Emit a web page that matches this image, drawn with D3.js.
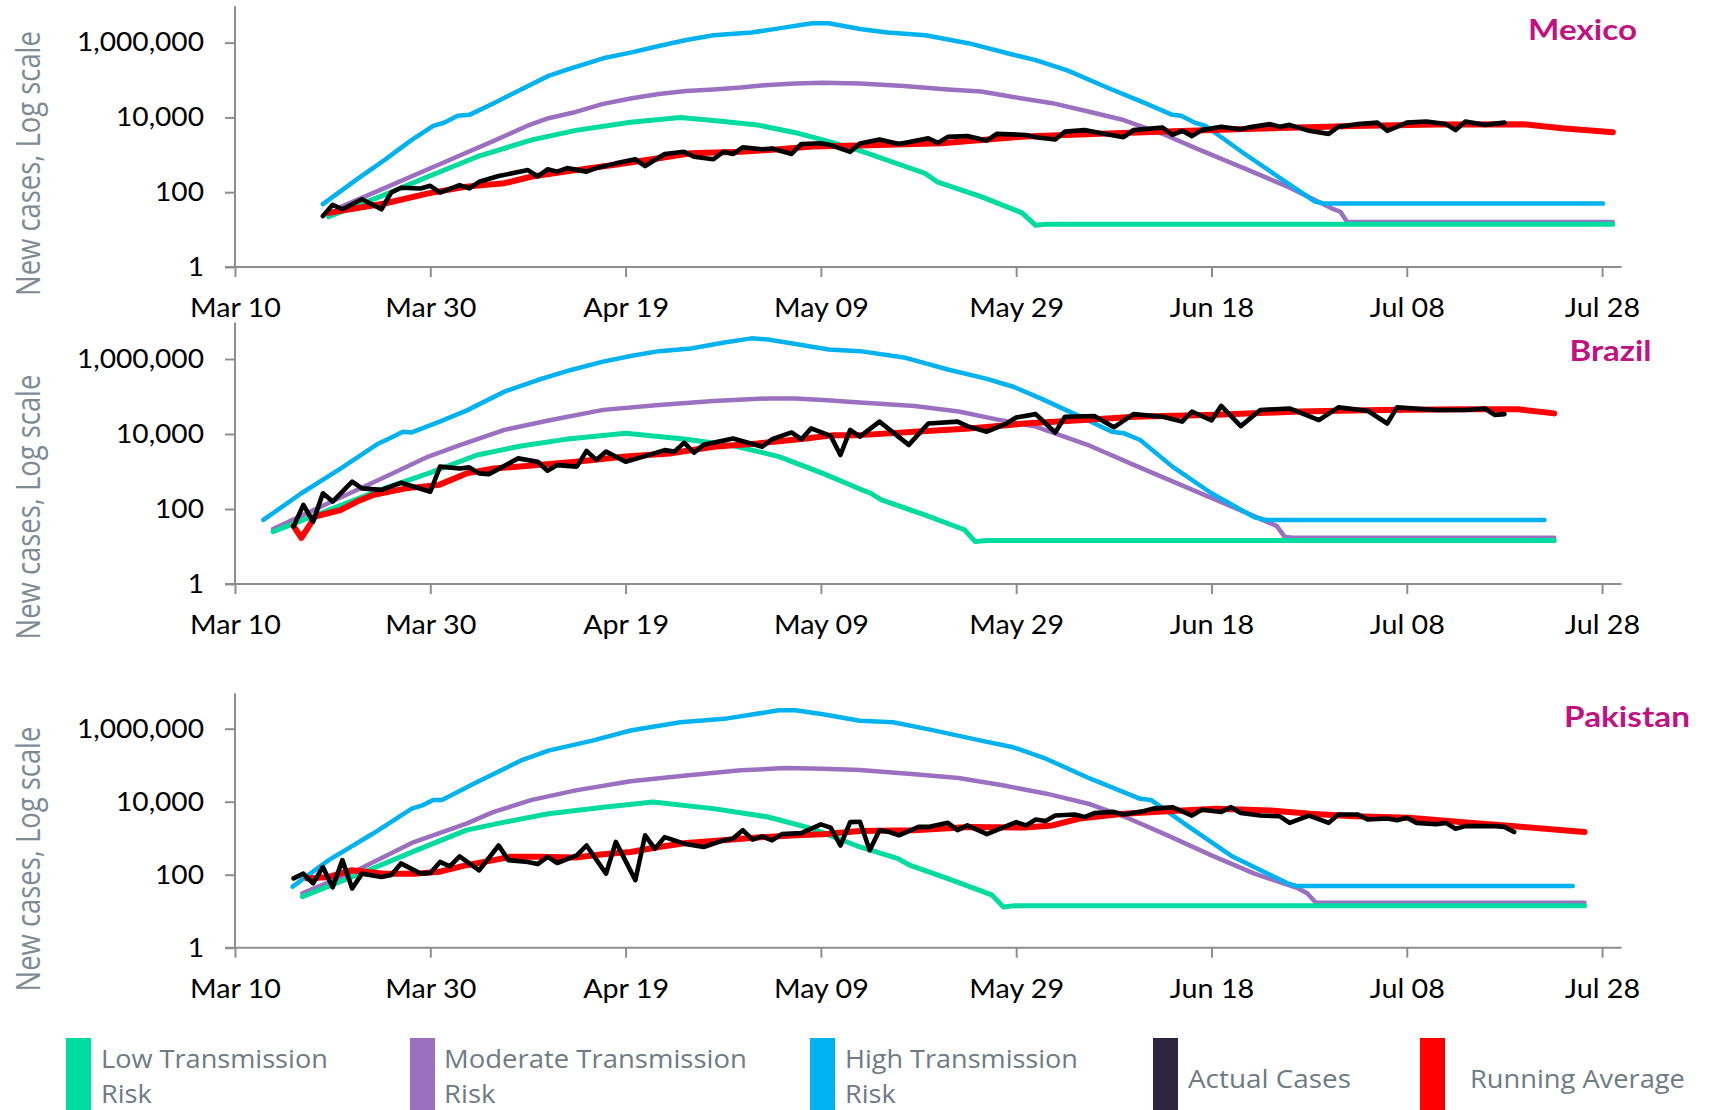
<!DOCTYPE html>
<html><head><meta charset="utf-8">
<script src="https://cdn.jsdelivr.net/npm/d3@7"></script>
<style>
html,body{margin:0;padding:0;background:#fff;}
svg{display:block;}
</style></head>
<body>
<svg id="chart" width="1716" height="1110"></svg>
<script>
// ---------- categories / labels ----------
const countries = ["Mexico", "Brazil", "Pakistan"];
const seriesKeys = ["low", "moderate", "high", "actual", "average"];
const legendLines = [["Low Transmission", "Risk"], ["Moderate Transmission", "Risk"], ["High Transmission", "Risk"], ["Actual Cases"], ["Running Average"]];
const xTickDays = [0, 20, 40, 60, 80, 100, 120, 140];          // days since 2020-03-10
const xTickLabels = ["Mar 10", "Mar 30", "Apr 19", "May 09", "May 29", "Jun 18", "Jul 08", "Jul 28"];
const yTickValues = [1, 100, 10000, 1000000];
const yTitle = "New cases, Log scale";

// ---------- data: [days since Mar 10 2020, new cases] ----------
const mexicoHigh = [[9,48],[12.4,214],[15.3,720],[18.1,2500],[20.3,5900],[21.4,7200],[22.8,11000],[24,11700],[26.5,24000],[29.3,56000],[32.1,129000],[34.4,204000],[37.7,380000],[40.5,540000],[43.4,810000],[46.2,1170000],[49,1580000],[52.9,1860000],[55.7,2400000],[59.1,3300000],[60.8,3300000],[64,2300000],[66.8,1860000],[70.7,1580000],[75.2,950000],[79.2,510000],[82,340000],[85.3,178000],[89.3,63000],[93.2,24000],[96,11700],[96.9,11000],[98.3,7200],[99.4,5900],[103.3,1100],[107.3,214],[110.6,56],[111.5,50],[140.1,50]];
const mexicoModerate = [[10.5,37],[15.3,129],[20.9,550],[26.5,2350],[29.9,5900],[32.1,9500],[34.9,14000],[37.7,23000],[40.5,32000],[43.4,42000],[46.2,51000],[49,56000],[51.8,63000],[54.6,74000],[57.4,81000],[60.2,85000],[64,81000],[68.5,69000],[73,56000],[76.4,49000],[79.7,35000],[83.7,24000],[87.6,14000],[91,8500],[94.9,3700],[98.8,1350],[103.3,440],[107.8,141],[112.3,37],[113.2,30],[113.9,16],[141.1,16]];
const mexicoLow = [[9.6,22],[15.3,85],[19.8,263],[24.8,890],[30.4,2500],[34.9,4500],[40.5,7400],[45.6,10000],[49,8300],[53.5,6300],[57.4,3900],[60.2,2500],[64,1300],[70.7,316],[71.9,190],[76.4,76],[80.6,28],[82,13],[83.1,14],[141.1,14]];
const mexicoAverage = [[9.6,28],[15.3,50],[19.8,93],[23.7,141],[27.6,174],[30.4,263],[34.9,390],[38.9,540],[43.4,810],[46.7,1100],[51.8,1200],[55.7,1400],[59.1,1660],[64,1780],[72.4,2040],[80.9,3100],[89.3,3700],[97.7,4400],[106.1,5100],[114.6,5900],[123,6500],[132,6600],[135.9,5100],[141.1,4000]];
const mexicoActual = [[9,23],[10,46],[11,35],[13,65],[15,35],[16,98],[17,132],[19,126],[20,148],[21,98],[23,155],[24,126],[25,190],[27,270],[30,390],[31,263],[32,410],[33,355],[34,440],[36,355],[37,440],[39,590],[41,760],[42,500],[44,1050],[46,1200],[47,890],[49,760],[50,1200],[51,1050],[52,1580],[54,1400],[55,1480],[57,1050],[58,1950],[60,2040],[61,1820],[63,1200],[64,2000],[66,2570],[68,1950],[71,2750],[72,2090],[73,3020],[75,3160],[77,2400],[78,3630],[81,3390],[82,2950],[84,2570],[85,4170],[87,4570],[89,3630],[91,2950],[92,4570],[95,5370],[96,3390],[97,4370],[98,3160],[99,4570],[101,5620],[103,4790],[104,5500],[106,6600],[107,5620],[108,6310],[110,4370],[112,3630],[113,5620],[115,6600],[117,7240],[118,4370],[120,7240],[122,7760],[124,6600],[125,4570],[126,7760],[128,6310],[130,7240]];

const brazilHigh = [[2.9,51],[6.8,263],[10.8,1200],[14.7,5600],[15.8,7600],[17.2,11500],[18.1,11000],[20.9,21000],[23.7,42000],[27.6,135000],[31,275000],[34.4,510000],[37.7,850000],[40.5,1200000],[43.4,1620000],[46.7,1900000],[50.1,2750000],[52.9,3550000],[54.6,3300000],[57.4,2500000],[60.8,1800000],[64,1620000],[68.5,1100000],[73,525000],[76.9,300000],[79.7,182000],[82.5,89000],[85.9,35000],[89.8,11500],[91,10500],[92.7,6900],[96,1350],[100,263],[104.4,60],[105.6,51],[134.1,51]];
const brazilModerate = [[3.9,29],[9.6,145],[15.3,700],[19.8,2500],[23.1,5100],[27.6,12900],[32.1,23000],[37.7,44000],[43.4,59000],[49,76000],[54.6,89000],[57.4,89000],[60.2,81000],[64,69000],[69.6,56000],[74.1,40000],[78,24500],[82,15800],[87.6,4800],[92.1,1480],[97.7,355],[103.3,85],[106.7,35],[107.5,18],[108.4,17],[135.1,17]];
const brazilLow = [[3.9,25],[9.6,93],[15.3,355],[19.8,890],[24.8,2750],[29.3,4800],[33.8,7200],[40,10500],[46.2,7200],[51.2,4800],[55.7,2500],[60.2,890],[64,340],[65.1,263],[66.2,174],[70.7,69],[74.7,28],[75.8,13.5],[76.9,14.5],[135.1,14.5]];
const brazilAverage = [[6,35],[6.8,17],[8.2,63],[10.8,93],[12.5,158],[14.1,234],[17.5,355],[20.9,440],[23.7,890],[26.5,1200],[31,1480],[34.9,1820],[40,2500],[44.5,3020],[49,4570],[53.5,5620],[58.5,7590],[61.3,9330],[64,9330],[69.6,11500],[75.2,14100],[80.9,19000],[86.5,23400],[92.1,28800],[100.5,32400],[108.9,39800],[117.4,43700],[125.8,45700],[131.4,45700],[135.1,35500]];
const brazilActual = [[6,34],[7,129],[8,46],[9,263],[10,158],[12,540],[13,355],[15,324],[17,500],[20,288],[21,1350],[23,1200],[24,1290],[25,890],[26,850],[29,2240],[31,1820],[32,1050],[33,1480],[35,1350],[36,3550],[37,2040],[38,3390],[40,1820],[42,2570],[44,3720],[45,3390],[46,5890],[47,3160],[48,5130],[51,7590],[54,4570],[55,7240],[57,11000],[58,7240],[59,14100],[61,8910],[62,2750],[63,12900],[64,8510],[66,21400],[69,5130],[71,19000],[74,21400],[75,16200],[77,11500],[79,19000],[80,27500],[82,33900],[84,11000],[85,28800],[88,30200],[90,15100],[92,33900],[95,28800],[97,21400],[98,39800],[100,22900],[101,56200],[103,16200],[105,43700],[108,47900],[111,23400],[113,51300],[116,41700],[118,19000],[119,51300],[123,43700],[126,43700],[128,47900],[129,32400],[130,33900]];

const pakistanHigh = [[5.9,47],[9.6,250],[14.1,1320],[18.1,6460],[19.2,7940],[20.3,11200],[21.2,11200],[24.8,34700],[29.3,135000],[32.1,250000],[36.6,470000],[40.5,890000],[45.6,1500000],[50.1,1860000],[55.7,3200000],[57.4,3200000],[60.2,2500000],[64,1660000],[67.4,1500000],[71.3,930000],[76.4,470000],[79.7,310000],[83.1,148000],[87.6,42700],[92.7,12000],[93.8,11200],[97.7,2040],[102.2,309],[107.8,58],[108.7,49],[137,49]];
const pakistanModerate = [[6.9,31],[12.5,132],[18.1,740],[23.7,2500],[26.5,5250],[30.4,11200],[34.9,20400],[40.5,36300],[46.2,52500],[51.8,72400],[56.3,83200],[60.2,79400],[64,74000],[69.6,56200],[74.1,44700],[78.6,28200],[83.1,16600],[87.6,8500],[91,3980],[95.5,1200],[100,339],[104.4,107],[108.9,42],[109.8,31],[110.7,17],[138.2,17]];
const pakistanLow = [[6.9,25],[12.5,98],[18.6,470],[23.7,1660],[27.6,2750],[32.1,4680],[37.7,7080],[42.8,9770],[49,6460],[54.6,3800],[59.1,1820],[64,575],[67.9,275],[69.1,182],[73,78],[77.5,28],[78.7,13],[79.7,14],[138.2,14]];
const pakistanAverage = [[7.4,79],[9.6,87],[11.9,132],[15.3,107],[18.6,107],[20.9,120],[23.7,182],[26.5,251],[28.2,309],[31,309],[34.9,295],[37.7,363],[40.5,417],[43.4,575],[46.2,741],[49,832],[53.5,1050],[57.4,1200],[60.2,1290],[64,1580],[69.6,1660],[75.2,2040],[80.9,1950],[83.7,2240],[86.5,3470],[91,4680],[95.5,5500],[100.5,6460],[106.1,5750],[110.1,4680],[114.6,3980],[120.2,3630],[125.8,2750],[131.4,2090],[138.2,1480]];
const pakistanActual = [[6,79],[7,107],[8,58],[9,162],[10,45],[11,251],[12,42],[13,107],[15,87],[16,98],[17,204],[19,107],[20,112],[21,224],[22,170],[23,316],[25,132],[27,631],[28,251],[30,224],[31,195],[32,309],[33,209],[35,339],[36,631],[38,107],[39,794],[41,71],[42,1200],[43,513],[44,1070],[46,708],[48,575],[50,871],[51,977],[52,1660],[53,912],[54,1120],[55,871],[56,1290],[58,1380],[60,2400],[61,1950],[62,631],[63,2750],[64,2820],[65,468],[66,1660],[67,1480],[68,1200],[70,2040],[71,2040],[73,2630],[74,1660],[75,2240],[77,1290],[78,1660],[80,2750],[81,2240],[82,3240],[83,2950],[84,4170],[86,4470],[87,3800],[88,4900],[90,5250],[91,4470],[93,5500],[94,6460],[96,7080],[98,4170],[99,6030],[101,5250],[102,7080],[103,4900],[105,4170],[107,3980],[108,2630],[110,4170],[112,2630],[113,4470],[115,4470],[116,3240],[118,3470],[119,3090],[120,3630],[121,2630],[123,2400],[124,2630],[125,1820],[126,2140],[129,2140],[130,2040],[131,1480]];

// ---------- styling ----------
const colors = {low: "#00DBA0", moderate: "#9C70C0", high: "#00B2F0", actual: "#000000", average: "#FF0000"};
const legendColors = ["#00DBA0", "#9C70C0", "#00B2F0", "#2E2640", "#FF0000"];
const widths = {low: 5, moderate: 4.5, high: 4.5, actual: 4.6, average: 6};
const drawOrder = ["moderate", "high", "low", "average", "actual"];
const axisColor = "#8E8E8E";

const panelData = [
  {low: mexicoLow, moderate: mexicoModerate, high: mexicoHigh, actual: mexicoActual, average: mexicoAverage},
  {low: brazilLow, moderate: brazilModerate, high: brazilHigh, actual: brazilActual, average: brazilAverage},
  {low: pakistanLow, moderate: pakistanModerate, high: pakistanHigh, actual: pakistanActual, average: pakistanAverage}
];
const panelLayout = [
  {y0: 267, top: 5.2, labelX: 1637, labelY: 39.5, labelW: 109, titleCy: 163.5},
  {y0: 584, top: 321.5, labelX: 1651.5, labelY: 360.5, labelW: 82, titleCy: 507},
  {y0: 947.7, top: 692.2, labelX: 1690, labelY: 727, labelW: 126, titleCy: 859}
];

const svg = d3.select("#chart");
const base = Date.UTC(2020, 2, 10);
const toDate = d => new Date(base + d * 864e5);
const x = d3.scaleUtc().domain([toDate(0), toDate(142)]).range([235, 1621.6]);

function scaleText(sel, k) {
  sel.each(function() {
    const t = d3.select(this);
    const tx = +t.attr("x") || 0, ty = +t.attr("y") || 0;
    t.attr("x", 0).attr("y", 0).attr("transform", `translate(${tx},${ty}) scale(${k},1)`);
  });
}

panelData.forEach((data, pi) => {
  const L = panelLayout[pi];
  const y = d3.scaleLog().domain([1, 1e7]).range([L.y0, L.top]);
  const g = svg.append("g");

  // axes lines
  g.append("line").attr("x1", 225).attr("x2", 1621.6).attr("y1", L.y0).attr("y2", L.y0)
    .attr("stroke", axisColor).attr("stroke-width", 2);
  g.append("line").attr("x1", 235).attr("x2", 235).attr("y1", L.top + 1).attr("y2", L.y0)
    .attr("stroke", axisColor).attr("stroke-width", 2);

  // y axis
  const ya = g.append("g").attr("transform", "translate(235,0)")
    .call(d3.axisLeft(y).tickValues(yTickValues).tickFormat(d3.format(",")).tickSize(10).tickPadding(21));
  ya.select(".domain").remove();
  ya.selectAll(".tick line").attr("stroke", axisColor).attr("stroke-width", 2);
  ya.selectAll(".tick text").attr("font-family", "Lato, 'Liberation Sans', sans-serif").attr("font-size", 26).attr("fill", "#000");

  // x axis
  const xa = g.append("g").attr("transform", `translate(0,${L.y0})`)
    .call(d3.axisBottom(x).tickValues(xTickDays.map(toDate)).tickFormat((d, i) => xTickLabels[i]).tickSize(10).tickPadding(22));
  xa.select(".domain").remove();
  xa.selectAll(".tick line").attr("stroke", axisColor).attr("stroke-width", 2);
  xa.selectAll(".tick text").attr("font-family", "Lato, 'Liberation Sans', sans-serif").attr("font-size", 26).attr("fill", "#000");

  // fit tick label widths
  const ywide = ya.selectAll(".tick text").filter(d => d === 1000000).node();
  const ky = 127 / ywide.getComputedTextLength();
  scaleText(ya.selectAll(".tick text"), ky);
  const xfirst = xa.select(".tick text").node();
  const kx = 91 / xfirst.getComputedTextLength();
  scaleText(xa.selectAll(".tick text"), kx);

  // series lines
  const line = d3.line().x(d => x(toDate(d[0]))).y(d => y(d[1]));
  drawOrder.forEach(key => {
    g.append("path").datum(data[key]).attr("d", line)
      .attr("fill", "none").attr("stroke", colors[key]).attr("stroke-width", widths[key])
      .attr("stroke-linejoin", "round").attr("stroke-linecap", "round");
  });

  // country label
  const lab = g.append("text").attr("x", L.labelX).attr("y", L.labelY).attr("text-anchor", "end")
    .attr("font-family", "Lato, 'Liberation Sans', sans-serif").attr("font-weight", 700).attr("font-size", 28)
    .attr("fill", "#C0137F").text(countries[pi]);
  scaleText(lab, L.labelW / lab.node().getComputedTextLength());

  // y title
  const tt = g.append("text").attr("text-anchor", "middle")
    .attr("font-family", "'Open Sans', 'DejaVu Sans', sans-serif").attr("font-size", 27)
    .attr("fill", "#7F8A93").text(yTitle);
  const len = tt.node().getComputedTextLength();
  const fs = 27 * 265 / len;
  tt.attr("font-size", fs);
  const kt = 23.5 / (0.714 * fs);
  tt.attr("transform", `translate(40,${L.titleCy}) scale(${kt},1) rotate(-90)`);
});

// ---------- legend ----------
const legendX = [66, 410, 810, 1153, 1420];
const legendTextX = [101, 444, 845, 1188, 1470];
const legendW = [227, 303, 233, 163, 215];
const lg = svg.append("g");
legendLines.forEach((lines, i) => {
  lg.append("rect").attr("x", legendX[i]).attr("y", 1038).attr("width", 25).attr("height", 80).attr("fill", legendColors[i]);
  const ys = lines.length === 2 ? [1068, 1103] : [1088];
  let k = null;
  lines.forEach((s, j) => {
    const t = lg.append("text").attr("x", legendTextX[i]).attr("y", ys[j])
      .attr("font-family", "'Open Sans', 'DejaVu Sans', sans-serif").attr("font-size", 25)
      .attr("fill", "#6F7A83").text(s);
    if (k === null) k = legendW[i] / t.node().getComputedTextLength();
    scaleText(t, k);
  });
});
</script>
</body></html>
